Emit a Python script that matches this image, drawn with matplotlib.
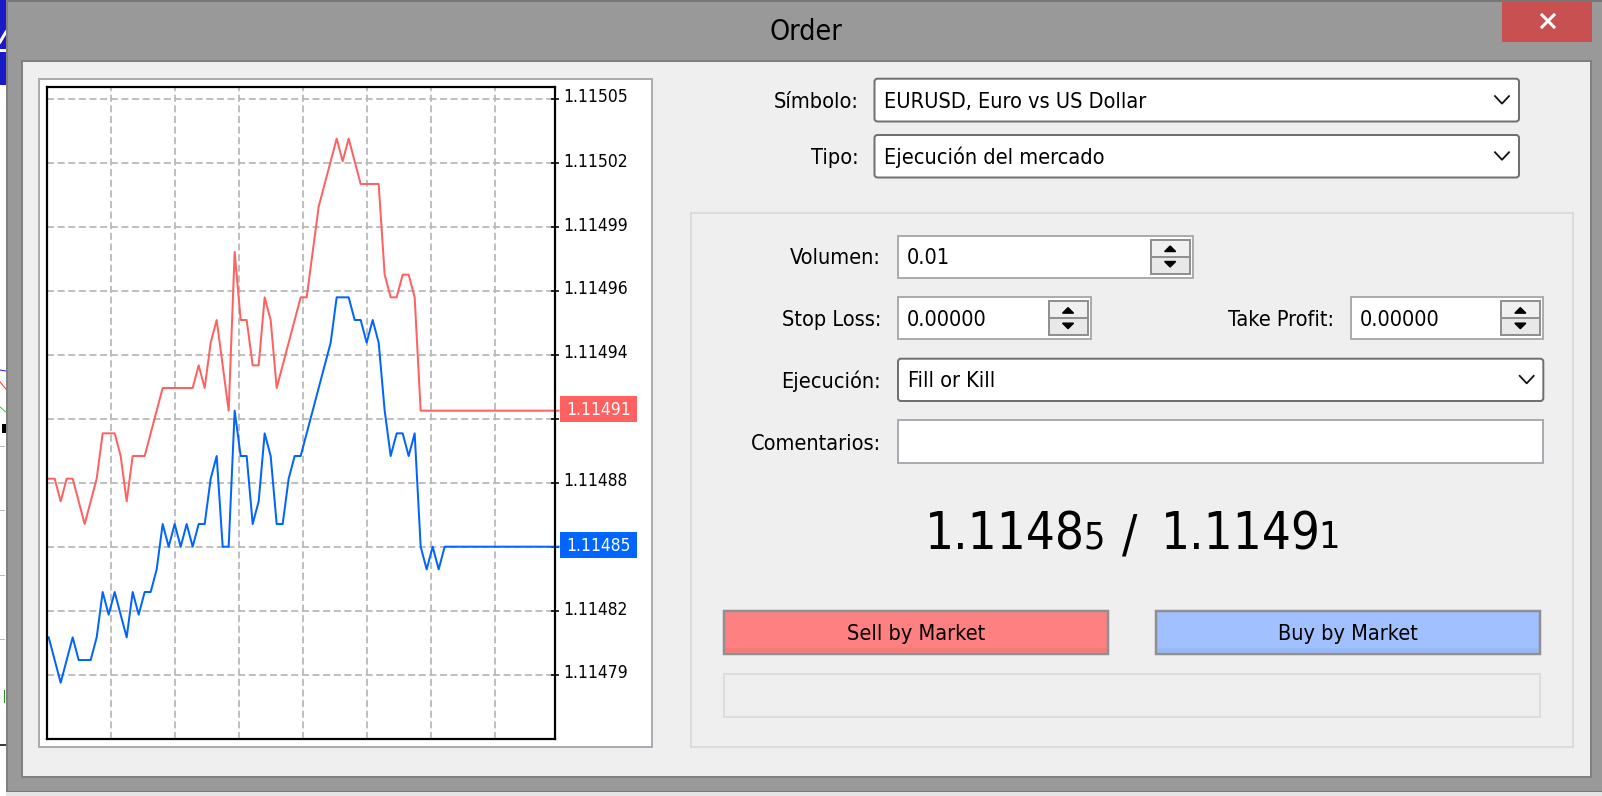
import matplotlib

matplotlib.use("Agg")
import matplotlib.pyplot as plt
import numpy as np
from matplotlib.patches import FancyBboxPatch, Polygon, Rectangle
from matplotlib.transforms import ScaledTranslation

###########################################################
#                           Data                          #
###########################################################
ask_prices = [
    1.11488, 1.11488, 1.11487, 1.11488, 1.11488, 1.11487, 1.11486, 1.11487, 1.11488, 1.11490,
    1.11490, 1.11490, 1.11489, 1.11487, 1.11489, 1.11489, 1.11489, 1.11490, 1.11491, 1.11492,
    1.11492, 1.11492, 1.11492, 1.11492, 1.11492, 1.11493, 1.11492, 1.11494, 1.11495, 1.11493,
    1.11491, 1.11498, 1.11495, 1.11495, 1.11493, 1.11493, 1.11496, 1.11495, 1.11492, 1.11493,
    1.11494, 1.11495, 1.11496, 1.11496, 1.11498, 1.11500, 1.11501, 1.11502, 1.11503, 1.11502,
    1.11503, 1.11502, 1.11501, 1.11501, 1.11501, 1.11501, 1.11497, 1.11496, 1.11496, 1.11497,
    1.11497, 1.11496, 1.11491, 1.11491, 1.11491, 1.11491, 1.11491, 1.11491, 1.11491, 1.11491,
    1.11491, 1.11491, 1.11491, 1.11491, 1.11491, 1.11491, 1.11491, 1.11491, 1.11491, 1.11491,
    1.11491, 1.11491, 1.11491, 1.11491, 1.11491, 1.11491,
]
bid_prices = [
    1.11481, 1.11480, 1.11479, 1.11480, 1.11481, 1.11480, 1.11480, 1.11480, 1.11481, 1.11483,
    1.11482, 1.11483, 1.11482, 1.11481, 1.11483, 1.11482, 1.11483, 1.11483, 1.11484, 1.11486,
    1.11485, 1.11486, 1.11485, 1.11486, 1.11485, 1.11486, 1.11486, 1.11488, 1.11489, 1.11485,
    1.11485, 1.11491, 1.11489, 1.11489, 1.11486, 1.11487, 1.11490, 1.11489, 1.11486, 1.11486,
    1.11488, 1.11489, 1.11489, 1.11490, 1.11491, 1.11492, 1.11493, 1.11494, 1.11496, 1.11496,
    1.11496, 1.11495, 1.11495, 1.11494, 1.11495, 1.11494, 1.11491, 1.11489, 1.11490, 1.11490,
    1.11489, 1.11490, 1.11485, 1.11484, 1.11485, 1.11484, 1.11485, 1.11485, 1.11485, 1.11485,
    1.11485, 1.11485, 1.11485, 1.11485, 1.11485, 1.11485, 1.11485, 1.11485, 1.11485, 1.11485,
    1.11485, 1.11485, 1.11485, 1.11485, 1.11485, 1.11485,
]
tick_prices = [1.1150475, 1.1150192, 1.1149910, 1.1149628, 1.1149346,
               1.1149065, 1.1148782, 1.1148500, 1.1148216, 1.1147935]
tick_labels = ["1.11505", "1.11502", "1.11499", "1.11496", "1.11494",
               "1.11491", "1.11488", "1.11485", "1.11482", "1.11479"]
grid_times = [10.39, 21.06, 31.72, 42.39, 53.06, 63.72, 74.39]
ask_label = "1.11491"
bid_label = "1.11485"

###########################################################
#                     General parameters                  #
###########################################################
W, H = 1602, 796
ASK_COLOR = "#ff6060"
BID_COLOR = "#0064ff"
PANEL = "#efefef"
FIELD_EDGE = "#a9adb2"
GROUP_EDGE = "#dcdcdc"
FONT = dict(family="DejaVu Sans", stretch="condensed")

fig = plt.figure(figsize=(W / 100, H / 100), dpi=100, facecolor="white")
ui = fig.add_axes([0, 0, 1, 1])
ui.set_xlim(0, W)
ui.set_ylim(H, 0)
ui.axis("off")


def px(n):
    # pixels to points
    return n * 0.72


def box(x0, y0, x1, y1, face, edge=None, lw=1.5, z=2):
    ui.add_patch(Rectangle((x0, y0), x1 - x0, y1 - y0, facecolor=face,
                           edgecolor=edge if edge else "none", linewidth=px(lw), zorder=z))


def label(x, y, s, size=15.6, ha="left", color="black", z=5):
    # text sits a little low in its row, as in the dialog
    ui.text(x, y + 1.5, s, fontsize=size, ha=ha, va="center", color=color, zorder=z, **FONT)


def chevron(x, y):
    ui.plot([x - 7, x, x + 7], [y - 4, y + 3.5, y - 4], color="#111111", lw=px(1.8), zorder=5)


def dropdown(x0, y0, x1, y1, s, chev_x):
    ui.add_patch(FancyBboxPatch((x0, y0), x1 - x0, y1 - y0, boxstyle="round,pad=0,rounding_size=3",
                                facecolor="white", edgecolor="#707070", linewidth=px(2), zorder=2))
    label(x0 + 10, (y0 + y1) / 2, s)
    chevron(chev_x, (y0 + y1) / 2)


def spinner(x0, y0, x1, y1):
    mid = (y0 + y1) / 2
    box(x0, y0, x1, mid, "#f0f0f0", "#909090", 2, 3)
    box(x0, mid, x1, y1, "#e8e8e8", "#909090", 2, 3)
    cx = (x0 + x1) / 2
    ui.add_patch(Polygon([(cx - 5.5, mid - 5), (cx + 5.5, mid - 5), (cx, mid - 10.5)], color="black", zorder=4))
    ui.add_patch(Polygon([(cx - 5.5, mid + 5), (cx + 5.5, mid + 5), (cx, mid + 10.5)], color="black", zorder=4))


def spin_field(x0, y0, x1, y1, s, sx0, sx1):
    box(x0, y0, x1, y1, "white", FIELD_EDGE, 2)
    label(x0 + 9, (y0 + y1) / 2, s)
    spinner(sx0, y0 + 4, sx1, y1 - 4)


###########################################################
#                     Window and desktop                  #
###########################################################
# bits of the chart window behind the dialog
box(0, 0, 6, 85, "#1a1ac8", z=1)
ui.plot([0, 6], [42, 32], color="white", lw=px(3), zorder=1.5)
ui.plot([0, 6], [50, 50], color="white", lw=px(3), zorder=1.5)
ui.plot([0, 6], [370, 371], color="#2020ff", lw=px(1), zorder=1.5)
ui.plot([0, 6], [382, 389], color="#ff3030", lw=px(1), zorder=1.5)
ui.plot([0, 6], [407, 412], color="#30d030", lw=px(1), zorder=1.5)
box(2, 424, 6, 433, "black", z=1.5)
for tick_y in [446, 510, 575, 639]:
    ui.plot([0, 4], [tick_y, tick_y], color="#bbbbbb", lw=px(1), zorder=1.5)
ui.plot([4, 4], [690, 702], color="#209020", lw=px(1), zorder=1.5)
ui.plot([0, 6], [745, 745], color="black", lw=px(1.5), zorder=1.5)

box(6, 0, W, 792, "#999999", z=1.6)
box(6, 0, W, 2, "#777777", z=1.7)
box(6, 0, 7.5, 792, "#808080", z=1.7)
box(6, 790.5, W, 792, "#777777", z=1.7)
box(6, 792, W, 796, "#e4e4e4", z=1.7)
box(21.5, 61, 1591, 777, PANEL, "#808080", 2, 1.8)

label(806, 30.5, "Order", size=20.5, ha="center")
box(1502, 2, 1592, 41.7, "#c85050", z=3)
ui.plot([1542, 1554], [15, 27], color="white", lw=px(3), zorder=4)
ui.plot([1542, 1554], [27, 15], color="white", lw=px(3), zorder=4)

###########################################################
#                        Order form                       #
###########################################################
label(859, 101, "Símbolo:", ha="right")
dropdown(874.5, 78.7, 1519, 121.5, "EURUSD, Euro vs US Dollar", 1502)
label(859, 157, "Tipo:", ha="right")
dropdown(874.5, 135, 1519, 177.5, "Ejecución del mercado", 1502)

box(690.7, 212.7, 1573, 747, PANEL, GROUP_EDGE, 2)

label(881, 257, "Volumen:", ha="right")
spin_field(898, 235.5, 1193, 277.5, "0.01", 1150.7, 1189.6)
label(881, 319, "Stop Loss:", ha="right")
spin_field(898, 297, 1091.4, 339.3, "0.00000", 1048.6, 1087.5)
label(1334.5, 319, "Take Profit:", ha="right")
spin_field(1350.7, 297, 1543.3, 339.3, "0.00000", 1500.7, 1540)
label(881, 380, "Ejecución:", ha="right")
dropdown(898, 358.7, 1543.3, 401, "Fill or Kill", 1526.7)
label(881, 442, "Comentarios:", ha="right")
box(898, 420.3, 1543.3, 463.3, "white", FIELD_EDGE, 2)

# quote line, the last digit of each price is drawn smaller
big_y = 536
ui.text(925, big_y, bid_label[:-1], fontsize=36.5, ha="left", va="center", zorder=5, **FONT)
ui.text(1083, big_y + 2.5, bid_label[-1], fontsize=27, ha="left", va="center", zorder=5, **FONT)
ui.text(1130, big_y + 1, "/", fontsize=36.5, ha="center", va="center", zorder=5, **FONT)
ui.text(1161, big_y, ask_label[:-1], fontsize=36.5, ha="left", va="center", zorder=5, **FONT)
ui.text(1318, big_y + 2.5, ask_label[-1], fontsize=27, ha="left", va="center", zorder=5, **FONT)

box(724.3, 610.5, 1107.5, 653.5, "#ff8080", "#909090", 2.5)
box(726, 648, 1106, 652, "#f57a7a", z=2.5)
label(915.7, 632, "Sell by Market", ha="center")
box(1156, 610.5, 1539.7, 653.5, "#a0c0ff", "#909090", 2.5)
box(1158, 648, 1538, 652, "#98b8f8", z=2.5)
label(1348, 632, "Buy by Market", ha="center")
box(724.3, 674.3, 1539.7, 717.3, PANEL, GROUP_EDGE, 2)

###########################################################
#                          Chart                          #
###########################################################
box(38.5, 79, 651.5, 747, "white", FIELD_EDGE, 2)

left, right, top, bottom = 47, 555, 87, 739
chart = fig.add_axes([left / W, 1 - bottom / H, (right - left) / W, (bottom - top) / H], zorder=3)
chart.patch.set_visible(False)
chart.set_xlim(-0.28, 84.39)
chart.set_ylim(1.11485 - 8.483e-5, 1.11485 + 20.278e-5)

grid_style = dict(color="#b9b9b9", lw=px(1.8), linestyle=(0, (3.9, 2.0)), zorder=1)
for price in tick_prices:
    chart.axhline(price, **grid_style)
for t in grid_times:
    chart.axvline(t, **grid_style)

times = np.arange(len(ask_prices))
chart.plot(times, ask_prices, color=ASK_COLOR, lw=px(2), clip_on=False, zorder=2)
chart.plot(times, bid_prices, color=BID_COLOR, lw=px(2), clip_on=False, zorder=2)

chart.set_xticks([])
chart.yaxis.tick_right()
chart.set_yticks(tick_prices, tick_labels)
chart.tick_params(axis="y", direction="inout", length=px(8), width=px(1.6), pad=px(4),
                  labelsize=12.5, colors="black")
shift = ScaledTranslation(0, 3.5 / 100, fig.dpi_scale_trans)
for tick_text in chart.get_yticklabels():
    tick_text.set_fontfamily(FONT["family"])
    tick_text.set_fontstretch(FONT["stretch"])
    tick_text.set_transform(tick_text.get_transform() + shift)
for spine in chart.spines.values():
    spine.set_linewidth(px(2.2))
    spine.set_zorder(4)

# price tags sit over the tick labels
tags = fig.add_axes([0, 0, 1, 1], zorder=4)
tags.set_xlim(0, W)
tags.set_ylim(H, 0)
tags.axis("off")
fig.canvas.draw()
for price, color, s in [(ask_prices[-1], ASK_COLOR, ask_label), (bid_prices[-1], BID_COLOR, bid_label)]:
    tag_y = H - chart.transData.transform((0, price))[1] - 1.7
    tags.add_patch(Rectangle((560, tag_y - 13), 76.7, 26, facecolor=color, edgecolor="none"))
    tags.text(598.3, tag_y + 1.5, s, color="white", fontsize=12.5, ha="center", va="center", **FONT)

plt.savefig("out.png", dpi=100)
